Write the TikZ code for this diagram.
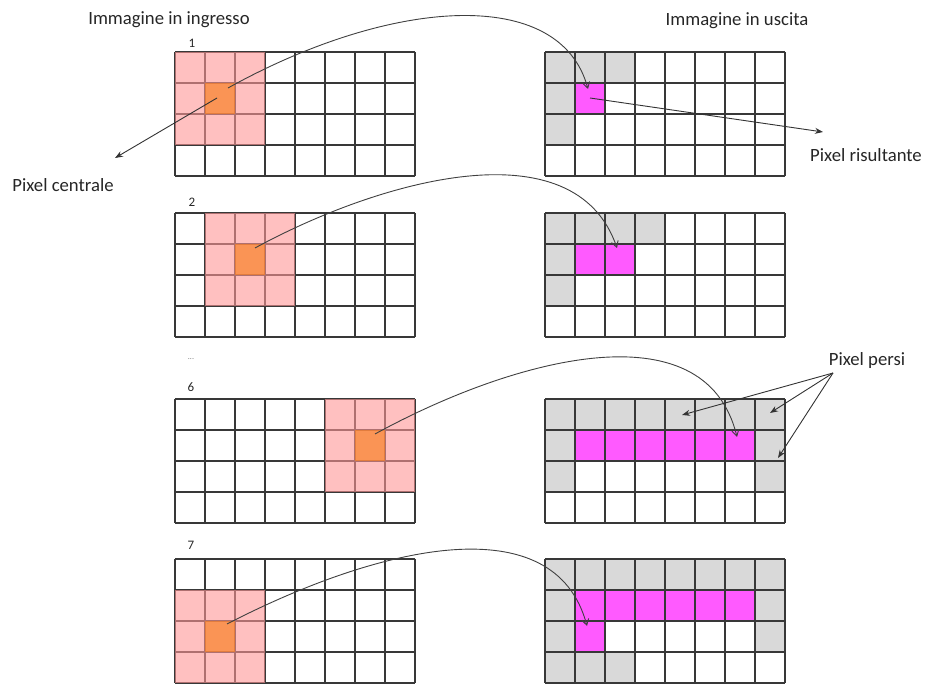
\documentclass[tikz,border=0pt]{standalone}
\usepackage{fontspec}
\setmainfont{Carlito}
\usetikzlibrary{arrows.meta}

\definecolor{winpink}{RGB}{255,150,150}
\definecolor{winorange}{RGB}{248,130,40}
\definecolor{outgray}{RGB}{217,217,217}
\definecolor{outmag}{RGB}{255,90,255}

\begin{document}
\begin{tikzpicture}[
    x=1pt, y=-1pt,
    txt/.style={font=\fontsize{18.7}{22}\selectfont, text=black!85, inner sep=0pt},
    numtxt/.style={font=\fontsize{13}{15}\selectfont, text=black!85, inner sep=0pt},
    gridline/.style={draw=black!78, line width=1.3pt},
    pinkcell/.style={fill=winpink, fill opacity=0.6},
    orangecell/.style={fill=winorange, fill opacity=0.7},
    graycell/.style={fill=outgray},
    magcell/.style={fill=outmag},
    flow/.style={-{Straight Barb[length=6pt,width=7pt]}, draw=black!75, line width=0.9pt},
    pointer/.style={-{Stealth[length=8pt,width=6pt]}, draw=black!80, line width=0.9pt},
]
\useasboundingbox (0,0) rectangle (930,684);

% Titles and step numbers
\node[txt] (tin) at (169,20) {Immagine in ingresso};
\node[txt] (tout) at (737,21) {Immagine in uscita};
\node[numtxt] (n1) at (192,43) {1};
\node[numtxt] (n2) at (192,202) {2};
\node[numtxt, font=\fontsize{8}{9}\selectfont, text=black!55] (dots) at (191,359) {...};
\node[numtxt] (n6) at (191,387) {6};
\node[numtxt] (n7) at (191,545) {7};

% Output grids: lost pixels and result pixels
\foreach \c/\r in {0/0,1/0,2/0,0/1,0/2}
  \fill[graycell] ({545+30*\c},{52+31*\r}) rectangle ++(30,31);
\fill[magcell] (575,83) rectangle ++(30,31);
\foreach \c/\r in {0/0,1/0,2/0,3/0,0/1,0/2}
  \fill[graycell] ({545+30*\c},{213+31*\r}) rectangle ++(30,31);
\fill[magcell] (575,244) rectangle ++(60,31);
\foreach \c/\r in {0/1,7/1,0/2,7/2}
  \fill[graycell] ({545+30*\c},{399+31*\r}) rectangle ++(30,31);
\fill[graycell] (545,399) rectangle ++(240,31);
\fill[magcell] (575,430) rectangle ++(180,31);
\foreach \c/\r in {0/1,7/1,0/2,7/2,0/3,1/3,2/3}
  \fill[graycell] ({545+30*\c},{559+31*\r}) rectangle ++(30,31);
\fill[graycell] (545,559) rectangle ++(240,31);
\fill[magcell] (575,590) rectangle ++(180,31);
\fill[magcell] (575,621) rectangle ++(30,31);

% Grid lines
\foreach \top in {52,213,399,559} {
  \foreach \gx in {175,545} {
    \foreach \i in {0,...,8}
      \draw[gridline] ({\gx+30*\i},\top) -- ++(0,124);
    \foreach \j in {0,...,4}
      \draw[gridline] (\gx,{\top+31*\j}) -- ++(240,0);
  }
}

% Input grids: 3x3 window and central pixel
\foreach \top/\pc/\pr in {52/0/0, 213/1/0, 399/5/0, 559/0/1} {
  \fill[pinkcell] ({175+30*\pc},{\top+31*\pr}) rectangle ++(90,93);
  \fill[orangecell] ({175+30*(\pc+1)},{\top+31*(\pr+1)}) rectangle ++(30,31);
}

% Labels
\node[txt] (pcentr) at (63,185) {Pixel centrale};
\node[txt] (prisult) at (866,155) {Pixel risultante};
\node[txt] (ppersi) at (867,361) {Pixel persi};

% Arrow end points
\coordinate (c1) at (228,88);
\coordinate (r1) at (588,89);
\coordinate (c2) at (255,248);
\coordinate (r2) at (617,248);
\coordinate (c3) at (375,434);
\coordinate (r3) at (737,437);
\coordinate (c4) at (227,624);
\coordinate (r4) at (587,626);
\coordinate (pcs) at (217,98);
\coordinate (pce) at (115,158);
\coordinate (prs) at (590,98);
\coordinate (pre) at (823,132);
\coordinate (pps) at (833,373);
\coordinate (pp1) at (682,415);
\coordinate (pp2) at (770,413);
\coordinate (pp3) at (778,458);

% Mapping input -> output
\draw[flow] (c1) .. controls (390,-2) and (560,-15) .. (r1);
\draw[flow] (c2) .. controls (380,180) and (575,125) .. (r2);
\draw[flow] (c3) .. controls (510,360) and (705,305) .. (r3);
\draw[flow] (c4) .. controls (380,545) and (555,505) .. (r4);

\draw[pointer] (pcs) -- (pce);
\draw[pointer] (prs) -- (pre);
\draw[pointer] (pps) -- (pp1);
\draw[pointer] (pps) -- (pp2);
\draw[pointer] (pps) -- (pp3);

\end{tikzpicture}
\end{document}
